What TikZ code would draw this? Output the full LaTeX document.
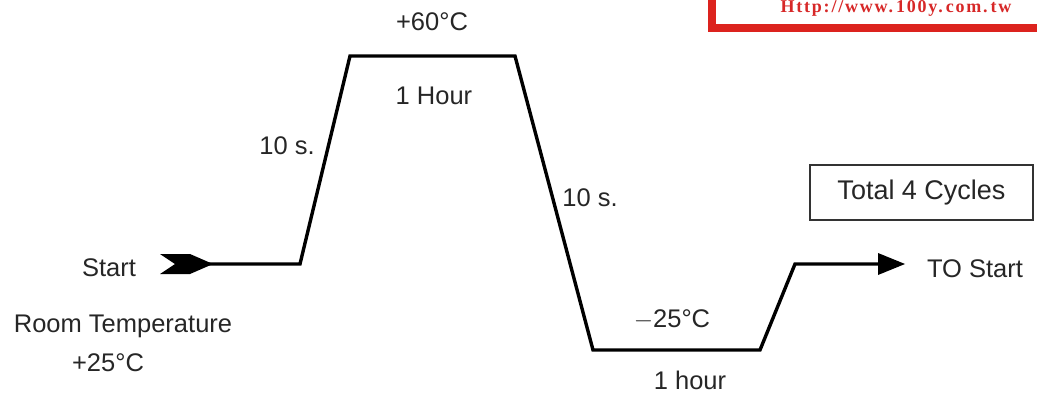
\documentclass[tikz,border=0pt]{standalone}
\usepackage{fontspec}
\setmainfont{Liberation Sans}
\newfontfamily\urlfont[LetterSpace=10]{Liberation Serif}
\usetikzlibrary{arrows.meta}
\tikzset{
  curve/.style={line width=3.4pt, line join=miter, draw=black},
  lbl/.style={font=\fontsize{25.5}{28}\selectfont, inner sep=0pt, text=black!85},
}
\newcommand{\degC}{°C}
\begin{document}
\begin{tikzpicture}[x=1pt,y=-1pt]
\useasboundingbox (0,0) rectangle (1037,396);
% red banner
\draw[line width=8pt, draw={rgb,255:red,220;green,35;blue,30}] (712,-20) rectangle (1050,28);
\node[font=\urlfont\bfseries\fontsize{18}{18}\selectfont, text={rgb,255:red,215;green,40;blue,40}, inner sep=0pt, anchor=base] (url) at (896,13) {Http://www.\,100y.\,com.\,tw};
% points
\coordinate (s0) at (207,264);
\coordinate (p1) at (300,264);
\coordinate (p2) at (350,56);
\coordinate (p3) at (515,56);
\coordinate (p4) at (593,350);
\coordinate (p5) at (760,350);
\coordinate (p6) at (795,264);
\coordinate (p7) at (905,264);
% start chevron
\fill (160,254) -- (190,254) -- (213,264) -- (190,274) -- (160,274) -- (175,264) -- cycle;
\draw[curve] (s0) -- (p1) -- (p2) -- (p3) -- (p4) -- (p5) -- (p6) -- (880,264);
\fill (p7) -- (878,253) -- (878,275) -- cycle;
% labels
\node[lbl, anchor=base] (start) at (109,276) {Start};
\node[lbl, anchor=base] (room) at (123,332) {Room Temperature};
\node[lbl, anchor=base] (rt) at (108,371) {+25\degC};
\node[lbl, anchor=base] (up) at (287,154) {10 s.};
\node[lbl, anchor=base] (hot) at (432,31) {+60\degC};
\node[lbl, anchor=base] (hh) at (434,104) {1 Hour};
\node[lbl, anchor=base] (dn) at (590,206) {10 s.};
\node[lbl, anchor=base] (cold) at (672,327) {$-$25\degC};
\node[lbl, anchor=base] (ch) at (690,389) {1 hour};
\node[lbl, anchor=base] (to) at (975,277) {TO Start};
\node[draw=black!80, line width=1.6pt, minimum width=223pt, minimum height=55pt, inner sep=0pt, font=\fontsize{27}{30}\selectfont, text=black!85] (total) at (921.5,192.5) {Total 4 Cycles};
\end{tikzpicture}
\end{document}
